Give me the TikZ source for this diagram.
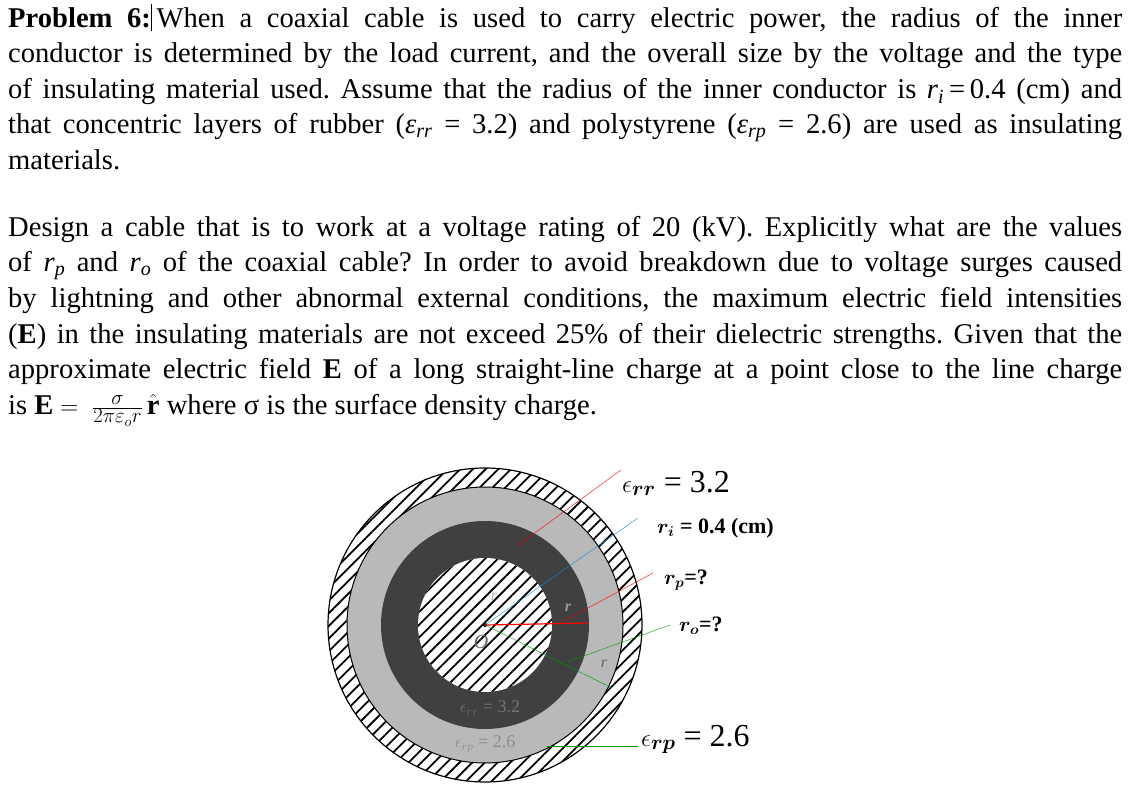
\documentclass[tikz,border=0pt]{standalone}
\usepackage{fontspec}
\usepackage{amsmath}
\setmainfont{Liberation Serif}
\usetikzlibrary{patterns.meta}
\frenchspacing
\newcommand{\vv}[2]{\textit{#1}\textsubscript{\textit{#2}}}
\begin{document}
\begin{tikzpicture}[x=1pt,y=-1pt,
  hatch/.style={pattern={Lines[angle=45,distance=9pt,line width=1.8pt]}},
  lbl/.style={anchor=base west,inner sep=0pt},
  para/.style={anchor=north west,inner sep=0pt,text width=1114pt,align=justify,font=\fontsize{28.6}{35.6}\selectfont}]
\useasboundingbox (0,0) rectangle (1138,802);
\node[para] (p1) at (8,4) {\textbf{Problem 6:}\rule[-4pt]{0.8pt}{27pt}\,When a coaxial cable is used to carry electric power, the radius of the inner\linebreak
conductor is determined by the load current, and the overall size by the voltage and the type\linebreak
of insulating material used. Assume that the radius of the inner conductor is \vv{r}{i}\,=\,0.4 (cm) and\linebreak
that concentric layers of rubber (\vv{ε}{rr} = 3.2) and polystyrene (\vv{ε}{rp} = 2.6) are used as insulating\linebreak
materials.\par};
\node[para] (p2) at (8,216) {Design a cable that is to work at a voltage rating of 20 (kV). Explicitly what are the values\linebreak
of \vv{r}{p} and \vv{r}{o} of the coaxial cable? In order to avoid breakdown due to voltage surges caused\linebreak
by lightning and other abnormal external conditions, the maximum electric field intensities\linebreak
(\textbf{E}) in the insulating materials are not exceed 25\% of their dielectric strengths. Given that the\linebreak
approximate electric field \textbf{E} of a long straight-line charge at a point close to the line charge\linebreak
is $\mathbf{E}=\;\tfrac{\sigma}{2\pi\varepsilon_o r}\,\hat{\mathbf{r}}$ where σ is the surface density charge.\par};
% cable
\coordinate (O) at (485,625);
\fill[hatch] (O) circle (157);
\draw[line width=1.2pt] (O) circle (157);
\fill[gray!55] (O) circle (138);
\draw[line width=1pt] (O) circle (138);
\fill[black!75] (O) circle (104);
\fill[white] (O) circle (67);
\fill[hatch] (O) circle (67);
\fill (O) circle (2);
\node[font=\fontsize{20}{20}\selectfont\itshape,text=black!60] (on) at (481,642) {O};
\node[font=\fontsize{16}{16}\selectfont\itshape,text=white!70!black] (rin) at (494,597) {r};
\node[font=\fontsize{16}{16}\selectfont\bfseries\itshape,text=black!40] (rpn) at (568,608) {r};
\node[font=\fontsize{16}{16}\selectfont\itshape,text=black!60] (ron) at (604,664) {r};
\node[font=\fontsize{18}{18}\selectfont,text=black!55] (err) at (490,708) {$\epsilon_{rr}$ = 3.2};
\node[font=\fontsize{18}{18}\selectfont,text=black!45] (erp) at (485,744) {$\epsilon_{rp}$ = 2.6};
% labels
\node[lbl,font=\fontsize{32}{32}\selectfont] (L1) at (622,492) {$\epsilon_{\boldsymbol{rr}}$ = 3.2};
\node[lbl,font=\fontsize{22}{22}\selectfont\bfseries] (L2) at (657,533) {$\boldsymbol{r_i}$ = 0.4 (cm)};
\node[lbl,font=\fontsize{22}{22}\selectfont\bfseries] (L3) at (664,584) {$\boldsymbol{r_p}$=?};
\node[lbl,font=\fontsize{22}{22}\selectfont\bfseries] (L4) at (679,631) {$\boldsymbol{r_o}$=?};
\node[lbl,font=\fontsize{32}{32}\selectfont] (L5) at (641,746) {$\epsilon_{\boldsymbol{rp}}$ = 2.6};
\coordinate (a1) at (517,546); \coordinate (b1) at (621,470);
\coordinate (b2) at (638,518);
\coordinate (a3) at (560,623); \coordinate (b3) at (653,573);
\coordinate (c3) at (588,623);
\coordinate (a4) at (567,662); \coordinate (b4) at (670,625);
\coordinate (c4) at (612,688);
\coordinate (a5) at (547,746); \coordinate (b5) at (638,746);
\draw[red] (a1) -- (b1);
\draw[cyan!70!blue] (O) -- (b2);
\draw[red,line width=1.2pt] (O) -- (c3);
\draw[red] (a3) -- (b3);
\draw[green!60!black] (O) -- (c4);
\draw[green!60!black] (a4) -- (b4);
\draw[green!60!black] (a5) -- (b5);
\end{tikzpicture}
\end{document}
